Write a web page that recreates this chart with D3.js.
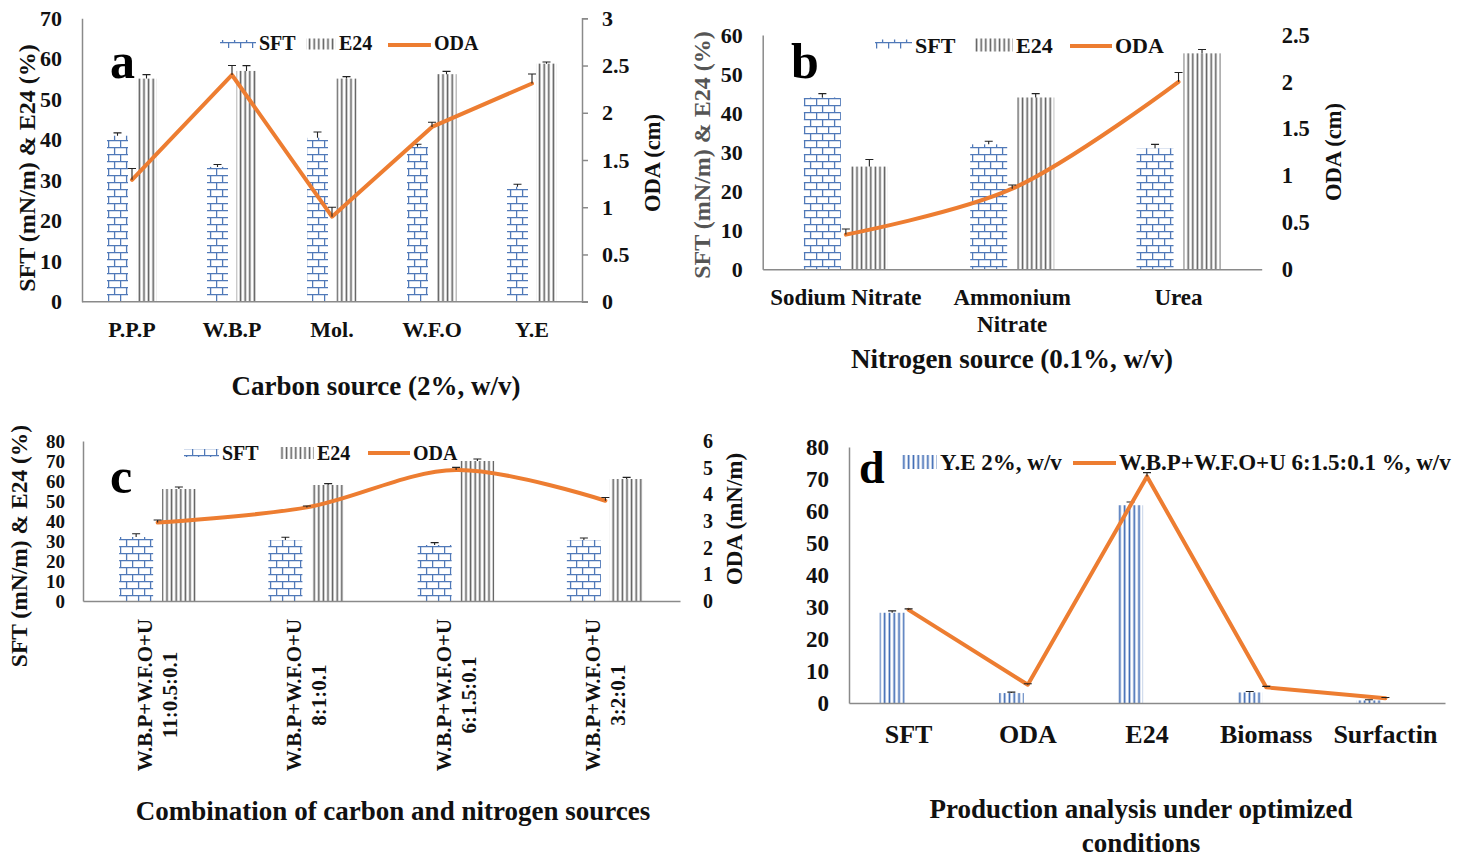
<!DOCTYPE html>
<html>
<head>
<meta charset="utf-8">
<script src="https://cdn.jsdelivr.net/npm/d3@7"></script>
<style>
  body { margin: 0; background: #fff; }
  svg text { font-family: "Liberation Serif", "Times New Roman", serif; font-weight: bold; fill: #111; }
</style>
</head>
<body>
<svg id="chart" width="1484" height="859"></svg>
<script>
// ---- panel a : carbon source ----
const catsA = [["P.P.P"], ["W.B.P"], ["Mol."], ["W.F.O"], ["Y.E"]];
const sftA = [41, 33.3, 40.5, 38.3, 28.4];
const sftErrA = [0.7, 0.6, 1.4, 0.6, 0.6];
const e24A = [55.1, 57, 55.1, 56.2, 58.8];
const e24ErrA = [1.0, 1.3, 0.5, 0.7, 0.4];
const odaA = [1.29, 2.4, 0.9, 1.85, 2.31];
const odaErrA = [0.12, 0.1, 0.1, 0.05, 0.1];

// ---- panel b : nitrogen source ----
const catsB = [["Sodium Nitrate"], ["Ammonium", "Nitrate"], ["Urea"]];
const sftB = [44, 32, 31];
const sftErrB = [1.0, 0.8, 1.0];
const e24B = [26.3, 44, 55.3];
const e24ErrB = [1.8, 1.0, 1.0];
const odaB = [0.37, 0.86, 2.0];
const odaErrB = [0.06, 0.04, 0.1];

// ---- panel c : combinations ----
const catsC = [
  ["W.B.P+W.F.O+U", "11:0.5:0.1"],
  ["W.B.P+W.F.O+U", "8:1:0.1"],
  ["W.B.P+W.F.O+U", "6:1.5:0.1"],
  ["W.B.P+W.F.O+U", "3:2:0.1"]
];
const sftC = [32, 30.5, 28, 30.5];
const sftErrC = [1.6, 1.4, 1.2, 1.0];
const e24C = [56, 58, 70, 61];
const e24ErrC = [1.0, 0.7, 1.0, 0.8];
const odaC = [2.94, 3.51, 4.91, 3.76];
const odaErrC = [0.1, 0.05, 0.1, 0.12];

// ---- panel d : optimized production ----
const catsD = [["SFT"], ["ODA"], ["E24"], ["Biomass"], ["Surfactin"]];
const yeD = [28.2, 3.1, 61.8, 3.3, 0.8];
const yeErrD = [0.6, 0.3, 1.0, 0.3, 0.2];
const optD = [29.1, 5.7, 70.8, 4.9, 1.5];
const optErrD = [0.3, 0.3, 1.2, 0.3, 0.2];

const axisColor = "#8a8a8a";
const orange = "#ED7D31";

const svg = d3.select("#chart");
const defs = svg.append("defs");

function addPattern(id, w, h, draw) {
  const p = defs.append("pattern")
    .attr("id", id)
    .attr("patternUnits", "userSpaceOnUse")
    .attr("width", w)
    .attr("height", h);
  p.append("rect").attr("width", w).attr("height", h).attr("fill", "#fff");
  draw(p);
}

addPattern("brick", 12, 14, p => p.append("path")
  .attr("d", "M0,0.6H12M0,7.6H12M0.6,0.6V7.6M6.6,7.6V14")
  .attr("stroke", "#5079b8")
  .attr("stroke-width", 1.3)
  .attr("fill", "none"));
addPattern("vgray", 4.6, 10, p => p.append("rect")
  .attr("x", 0.6).attr("width", 1.6).attr("height", 10).attr("fill", "#5e5e5e"));
addPattern("vblue", 4.8, 10, p => p.append("rect")
  .attr("x", 0.6).attr("width", 1.7).attr("height", 10).attr("fill", "#3b68b3"));

function errorBars(g, values, errs, xf, y) {
  g.append("g").selectAll("path")
    .data(values)
    .join("path")
    .attr("d", (d, i) => {
      const x = xf(d, i), y0 = y(d), y1 = y(d + errs[i]);
      return `M${x},${y0}V${y1}M${x - 4},${y1}H${x + 4}`;
    })
    .attr("stroke", "#222")
    .attr("stroke-width", 1.1)
    .attr("fill", "none");
}

function drawPanel(p) {
  const g = svg.append("g");
  const x = d3.scaleBand().domain(d3.range(p.cats.length)).range([p.left, p.right]);
  const bw = x.bandwidth();
  const cx = i => x(i) + bw / 2;
  const yL = d3.scaleLinear().domain([0, p.yMax]).range([p.bottom, p.top]);
  const yR = p.yRMax ? d3.scaleLinear().domain([0, p.yRMax]).range([p.bottom, p.top]) : yL;

  // bars
  p.bars.forEach(b => {
    const bx = i => cx(i) + b.offset * bw;
    g.append("g").selectAll("rect")
      .data(b.values)
      .join("rect")
      .attr("x", (d, i) => bx(i))
      .attr("width", b.width * bw)
      .attr("y", d => yL(d))
      .attr("height", d => yL(0) - yL(d))
      .attr("fill", `url(#${b.pattern})`);
    errorBars(g, b.values, b.errors, (d, i) => bx(i) + b.width * bw / 2, yL);
  });

  // left axis
  const la = g.append("g")
    .attr("transform", `translate(${p.left},0)`)
    .call(d3.axisLeft(yL)
      .tickValues(d3.range(0, p.yMax + 1, 10))
      .tickSize(0).tickSizeOuter(0)
      .tickPadding(p.tickPad));
  la.select(".domain").attr("stroke", axisColor).attr("stroke-width", 1.5);
  la.selectAll("text").style("font-size", p.tickFont + "px");

  // right axis
  if (p.yRMax) {
    const ra = g.append("g")
      .attr("transform", `translate(${p.right},0)`)
      .call(d3.axisRight(yR)
        .tickValues(d3.range(0, p.yRMax + 0.001, p.yRStep))
        .tickFormat(d3.format("~g"))
        .tickSize(p.rightLine ? 6 : 0)
        .tickSizeOuter(p.rightLine ? 6 : 0)
        .tickPadding(p.rightPad));
    ra.selectAll("line").attr("stroke", axisColor).attr("stroke-width", 1.5);
    if (p.rightLine) ra.select(".domain").attr("stroke", axisColor).attr("stroke-width", 1.5);
    else ra.select(".domain").remove();
    ra.selectAll("text").style("font-size", p.rightFont + "px");
  }

  // x axis line
  const xa = g.append("g")
    .attr("transform", `translate(0,${p.bottom})`)
    .call(d3.axisBottom(x).tickSize(0).tickSizeOuter(0).tickFormat(() => ""));
  xa.select(".domain").attr("stroke", axisColor).attr("stroke-width", 1.5);
  if (p.rightLine) {
    xa.select(".domain").attr("d", `M${p.left},0H${p.right + 6}`);
  }

  // category labels
  if (p.rotateLabels) {
    p.cats.forEach((lines, i) => {
      const lg = g.append("g").attr("transform", `translate(${cx(i)},${p.labelY}) rotate(-90)`);
      lines.forEach((t, k) => {
        lg.append("text")
          .attr("y", (k - (lines.length - 1) / 2) * 25)
          .attr("text-anchor", "middle")
          .attr("dominant-baseline", "central")
          .style("font-size", p.labelFont + "px")
          .text(t);
      });
    });
  } else {
    p.cats.forEach((lines, i) => {
      const t = g.append("text")
        .attr("x", cx(i))
        .attr("y", p.labelY)
        .attr("text-anchor", "middle")
        .style("font-size", p.labelFont + "px");
      lines.forEach((s, k) => {
        t.append("tspan").attr("x", cx(i)).attr("dy", k === 0 ? 0 : 27).text(s);
      });
    });
  }

  // line series
  const line = d3.line()
    .x((d, i) => cx(i))
    .y(d => yR(d))
    .curve(p.curve);
  g.append("path")
    .datum(p.line)
    .attr("d", line)
    .attr("fill", "none")
    .attr("stroke", orange)
    .attr("stroke-width", 4)
    .attr("stroke-linejoin", "round")
    .attr("stroke-linecap", "round");
  errorBars(g, p.line, p.lineErr, (d, i) => cx(i), yR);

  // titles
  p.titles.forEach(t => {
    const el = g.append("text")
      .attr("transform", `translate(${t.x},${t.y})` + (t.rotate ? " rotate(-90)" : ""))
      .attr("text-anchor", "middle")
      .attr("dominant-baseline", t.rotate ? "central" : null)
      .style("font-size", t.size + "px")
      .style("fill", t.color || null);
    t.lines.forEach((s, k) => {
      el.append("tspan").attr("x", 0).attr("dy", k === 0 ? 0 : t.lineGap).text(s);
    });
  });

  // panel letter
  g.append("text")
    .attr("x", p.letter.x)
    .attr("y", p.letter.y)
    .style("font-size", p.letter.size + "px")
    .style("fill", "#000")
    .text(p.letter.text);

  // legend
  p.legend.forEach(it => {
    if (it.kind === "line") {
      g.append("line")
        .attr("x1", it.x).attr("x2", it.x + it.w)
        .attr("y1", it.y).attr("y2", it.y)
        .attr("stroke", orange).attr("stroke-width", 4);
    } else {
      g.append("rect")
        .attr("x", it.x).attr("y", it.y - it.h / 2)
        .attr("width", it.w).attr("height", it.h)
        .attr("fill", `url(#${it.pattern})`);
    }
    g.append("text")
      .attr("x", it.x + it.w + 3)
      .attr("y", p.legendBase)
      .style("font-size", p.legendFont + "px")
      .text(it.label);
  });
}

drawPanel({
  cats: catsA, left: 82, right: 582, top: 18.3, bottom: 301.7,
  yMax: 70, tickPad: 20, tickFont: 22,
  yRMax: 3, yRStep: 0.5, rightLine: true, rightPad: 14, rightFont: 22,
  bars: [
    { values: sftA, errors: sftErrA, pattern: "brick", offset: -0.25, width: 0.21 },
    { values: e24A, errors: e24ErrA, pattern: "vgray", offset: 0.045, width: 0.2 }
  ],
  line: odaA, lineErr: odaErrA, curve: d3.curveLinear,
  labelY: 337, labelFont: 22,
  titles: [
    { lines: ["SFT (mN/m) & E24 (%)"], x: 27, y: 168, rotate: true, size: 24 },
    { lines: ["ODA (cm)"], x: 652, y: 163, rotate: true, size: 22.5 },
    { lines: ["Carbon source (2%, w/v)"], x: 376, y: 395, size: 27 }
  ],
  letter: { text: "a", x: 110, y: 78, size: 50 },
  legendFont: 20, legendBase: 50,
  legend: [
    { kind: "bar", pattern: "brick", x: 220, y: 44, w: 36, h: 8, label: "SFT" },
    { kind: "bar", pattern: "vgray", x: 306, y: 44, w: 30, h: 11, label: "E24" },
    { kind: "line", x: 388, y: 45, w: 43, label: "ODA" }
  ]
});

drawPanel({
  cats: catsB, left: 762.7, right: 1261.7, top: 35, bottom: 269.3,
  yMax: 60, tickPad: 20, tickFont: 22,
  yRMax: 2.5, yRStep: 0.5, rightLine: false, rightPad: 20, rightFont: 22.5,
  bars: [
    { values: sftB, errors: sftErrB, pattern: "brick", offset: -0.2525, width: 0.2225 },
    { values: e24B, errors: e24ErrB, pattern: "vgray", offset: 0.03, width: 0.2225 }
  ],
  line: odaB, lineErr: odaErrB, curve: d3.curveCatmullRom,
  labelY: 305, labelFont: 23,
  titles: [
    { lines: ["SFT (mN/m) & E24 (%)"], x: 702, y: 155, rotate: true, size: 24, color: "#555" },
    { lines: ["ODA (cm)"], x: 1333, y: 152, rotate: true, size: 22.5 },
    { lines: ["Nitrogen source (0.1%, w/v)"], x: 1012, y: 368, size: 27 }
  ],
  letter: { text: "b", x: 791, y: 78, size: 50 },
  legendFont: 22, legendBase: 53,
  legend: [
    { kind: "bar", pattern: "brick", x: 875, y: 44, w: 37, h: 9, label: "SFT" },
    { kind: "bar", pattern: "vgray", x: 975, y: 45, w: 38, h: 13, label: "E24" },
    { kind: "line", x: 1070, y: 46, w: 42, label: "ODA" }
  ]
});

drawPanel({
  cats: catsC, left: 83, right: 680, top: 441, bottom: 601,
  yMax: 80, tickPad: 18, tickFont: 19,
  yRMax: 6, yRStep: 1, rightLine: false, rightPad: 23, rightFont: 20,
  bars: [
    { values: sftC, errors: sftErrC, pattern: "brick", offset: -0.258, width: 0.228 },
    { values: e24C, errors: e24ErrC, pattern: "vgray", offset: 0.03, width: 0.225 }
  ],
  line: odaC, lineErr: odaErrC, curve: d3.curveCatmullRom,
  rotateLabels: true, labelY: 695, labelFont: 21,
  titles: [
    { lines: ["SFT (mN/m) & E24 (%)"], x: 19, y: 546, rotate: true, size: 23.5 },
    { lines: ["ODA (mN/m)"], x: 734, y: 519, rotate: true, size: 23 },
    { lines: ["Combination of carbon and nitrogen sources"], x: 393, y: 820, size: 27 }
  ],
  letter: { text: "c", x: 110, y: 493, size: 50 },
  legendFont: 20, legendBase: 460,
  legend: [
    { kind: "bar", pattern: "brick", x: 184, y: 453, w: 35, h: 8, label: "SFT" },
    { kind: "bar", pattern: "vgray", x: 280, y: 453, w: 34, h: 12, label: "E24" },
    { kind: "line", x: 368, y: 453, w: 42, label: "ODA" }
  ]
});

drawPanel({
  cats: catsD, left: 849, right: 1445, top: 447, bottom: 703,
  yMax: 80, tickPad: 20, tickFont: 23,
  bars: [
    { values: yeD, errors: yeErrD, pattern: "vblue", offset: -0.243, width: 0.21 }
  ],
  line: optD, lineErr: optErrD, curve: d3.curveLinear,
  labelY: 743, labelFont: 26,
  titles: [
    { lines: ["Production analysis under optimized", "conditions"], x: 1141, y: 818, size: 27, lineGap: 34 }
  ],
  letter: { text: "d", x: 859, y: 483, size: 46 },
  legendFont: 23, legendBase: 470,
  legend: [
    { kind: "bar", pattern: "vblue", x: 901, y: 462, w: 36, h: 14, label: "Y.E 2%, w/v" },
    { kind: "line", x: 1073, y: 463, w: 43, label: "W.B.P+W.F.O+U 6:1.5:0.1 %, w/v" }
  ]
});
</script>
</body>
</html>
